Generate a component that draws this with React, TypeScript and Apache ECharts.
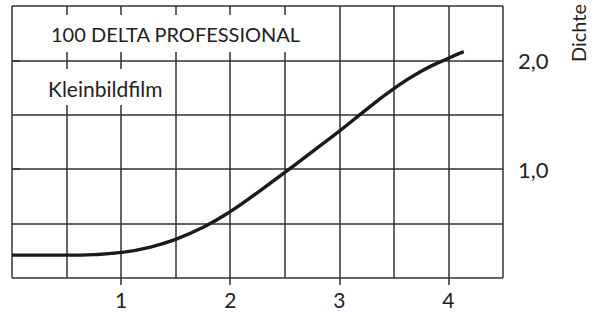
import React, { useEffect, useRef } from "react";
import * as echarts from "echarts";

const curveX = [0, 0.25, 0.5, 0.75, 1, 1.25, 1.5, 1.75, 2, 2.25, 2.5, 2.75, 3, 3.25, 3.5, 3.75, 4, 4.14];
const curveY = [0.21, 0.21, 0.21, 0.215, 0.235, 0.28, 0.355, 0.465, 0.61, 0.785, 0.97, 1.16, 1.35, 1.55, 1.74, 1.9, 2.02, 2.08];
const xTicks = [1, 2, 3, 4];
const yTicks = [1, 2];
const titleText = "100 DELTA PROFESSIONAL";
const subText = "Kleinbildfilm";
const yName = "Dichte";

const FONT = "Lato, 'Noto Sans', sans-serif";
const GRID = "#333333";

export default function App() {
  const ref = useRef<HTMLDivElement>(null);
  useEffect(() => {
    if (!ref.current) return;
    const chart = echarts.init(ref.current, null, { renderer: "svg" });
    const data = curveX.map((x, i) => [x, curveY[i]]);
    chart.setOption({
      animation: false,
      backgroundColor: "#ffffff",
      grid: { left: 12, right: 97, top: 6, bottom: 34 },
      xAxis: [
        {
          type: "value", min: 0, max: 4.5, interval: 0.5, position: "bottom",
          axisLine: { show: false }, axisTick: { show: false }, axisLabel: { show: false },
          splitLine: { show: true, lineStyle: { color: GRID, width: 1.5 } },
        },
        {
          type: "value", min: 0, max: 4.5, position: "bottom",
          axisLine: { show: false },
          axisTick: { show: true, customValues: xTicks, length: 7, inside: false, lineStyle: { color: GRID, width: 1.5 } },
          axisLabel: { show: true, customValues: xTicks, margin: 11, fontSize: 21, color: "#222", fontFamily: FONT },
          splitLine: { show: false },
        },
      ],
      yAxis: [
        {
          type: "value", min: 0, max: 2.5, interval: 0.5, position: "right",
          axisLine: { show: false }, axisTick: { show: false }, axisLabel: { show: false },
          splitLine: { show: true, lineStyle: { color: GRID, width: 1.5 } },
        },
        {
          type: "value", min: 0, max: 2.5, position: "right",
          axisLine: { show: false },
          axisTick: { show: true, customValues: yTicks, length: 8, inside: false, lineStyle: { color: GRID, width: 1.5 } },
          axisLabel: {
            show: true, customValues: yTicks, margin: 15, fontSize: 22, color: "#222", fontFamily: FONT,
            formatter: (v: number) => v.toFixed(1).replace(".", ","),
          },
          splitLine: { show: false },
        },
      ],
      series: [
        {
          type: "line", xAxisIndex: 0, yAxisIndex: 0, data, smooth: 0.5,
          symbol: "none", lineStyle: { color: "#1a1a1a", width: 3.4 }, z: 5,
        },
      ],
      graphic: [
        { type: "rect", z: 100, shape: { x: 42, y: 15, width: 266, height: 37 }, style: { fill: "#ffffff" } },
        { type: "text", z: 101, x: 51, y: 33.5, style: { text: titleText, fill: "#222", font: `20px ${FONT}`, textAlign: "left", textVerticalAlign: "middle" } },
        { type: "rect", z: 100, shape: { x: 42, y: 69, width: 124, height: 36 }, style: { fill: "#ffffff" } },
        { type: "text", z: 101, x: 48, y: 88, style: { text: subText, fill: "#222", font: `21px ${FONT}`, textAlign: "left", textVerticalAlign: "middle" } },
        { type: "text", z: 101, x: 578, y: 33, rotation: Math.PI / 2, style: { text: yName, fill: "#222", font: `20px ${FONT}`, textAlign: "center", textVerticalAlign: "middle" } },
      ],
    });
    return () => chart.dispose();
  }, []);
  return <div ref={ref} style={{ position: "fixed", left: 0, top: 0, width: 600, height: 312 }} />;
}
